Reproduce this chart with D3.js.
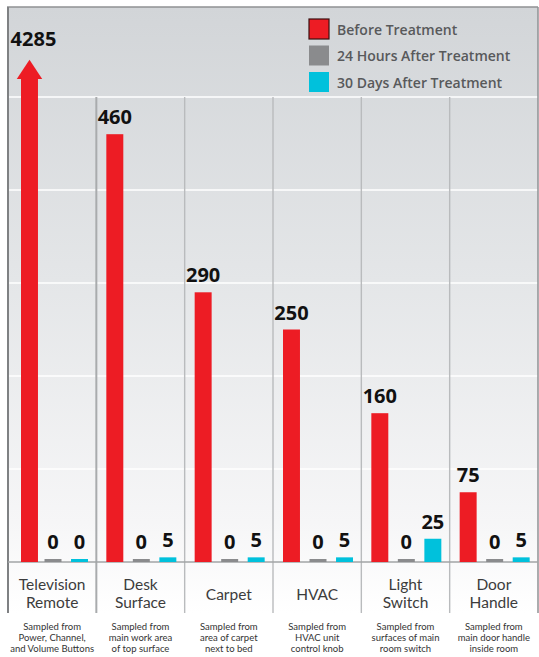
<!DOCTYPE html>
<html>
<head>
<meta charset="utf-8">
<script src="https://cdn.jsdelivr.net/npm/d3@7"></script>
<style>
  html, body { margin: 0; padding: 0; background: #ffffff; }
  svg { display: block; }
</style>
</head>
<body>
<svg id="chart" width="539" height="657"></svg>
<script>
// ---- data ----
const categories = ["Television Remote", "Desk Surface", "Carpet", "HVAC", "Light Switch", "Door Handle"];
const categoryLines = [["Television", "Remote"], ["Desk", "Surface"], ["Carpet"], ["HVAC"], ["Light", "Switch"], ["Door", "Handle"]];
const seriesNames = ["Before Treatment", "24 Hours After Treatment", "30 Days After Treatment"];
const beforeTreatment = [4285, 460, 290, 250, 160, 75];
const after24Hours = [0, 0, 0, 0, 0, 0];
const after30Days = [0, 5, 5, 5, 25, 5];
const notes = [
  ["Sampled from", "Power, Channel,", "and Volume Buttons"],
  ["Sampled from", "main work area", "of top surface"],
  ["Sampled from", "area of carpet", "next to bed"],
  ["Sampled from", "HVAC unit", "control knob"],
  ["Sampled from", "surfaces of main", "room switch"],
  ["Sampled from", "main door handle", "inside room"]
];
const gridValues = [100, 200, 300, 400, 500];
const capValue = 520;      // bars above this are drawn broken with an arrow
const arrowTipValue = 540;

const colors = ["#ed1c24", "#8a8b8d", "#00c1dc"];

// ---- layout ----
const svg = d3.select("#chart");
const panel = { left: 8, right: 538, top: 7, bottom: 613 };
const baseY = 562;

const x = d3.scaleBand().domain(categories).range([panel.left, panel.right]).padding(0);
const xs = d3.scaleBand().domain(seriesNames).range([10, 80]).paddingInner(0.36).paddingOuter(0);
const y = d3.scaleLinear().domain([0, 500]).range([baseY, 97]);
const color = d3.scaleOrdinal().domain(seriesNames).range(colors);

// background gradient
const defs = svg.append("defs");
const grad = defs.append("linearGradient").attr("id", "bg").attr("x1", 0).attr("y1", 0).attr("x2", 0).attr("y2", 1);
grad.append("stop").attr("offset", "0%").attr("stop-color", "#d2d5d8");
grad.append("stop").attr("offset", "45%").attr("stop-color", "#e4e6e8");
grad.append("stop").attr("offset", "85%").attr("stop-color", "#f6f6f7");
grad.append("stop").attr("offset", "100%").attr("stop-color", "#ffffff");

svg.append("rect")
  .attr("x", panel.left).attr("y", panel.top)
  .attr("width", panel.right - panel.left).attr("height", panel.bottom - panel.top)
  .attr("fill", "url(#bg)");

// gridlines
svg.append("g").selectAll("line").data(gridValues).join("line")
  .attr("x1", panel.left).attr("x2", panel.right)
  .attr("y1", d => y(d)).attr("y2", d => y(d))
  .attr("stroke", "#ffffff").attr("stroke-width", 1.6);

// vertical separators
svg.append("g").selectAll("line").data(categories.slice(1)).join("line")
  .attr("x1", d => x(d)).attr("x2", d => x(d))
  .attr("y1", y(500)).attr("y2", panel.bottom)
  .attr("stroke", (d, i) => i === 0 ? "#a9abad" : "#b9bbbd")
  .attr("stroke-width", (d, i) => i === 0 ? 2 : 1.4);

// panel borders
svg.append("line").attr("x1", panel.left - 1).attr("x2", panel.right).attr("y1", panel.top).attr("y2", panel.top)
  .attr("stroke", "#8f9193").attr("stroke-width", 1.5);
svg.append("line").attr("x1", panel.left).attr("x2", panel.left).attr("y1", panel.top).attr("y2", panel.bottom)
  .attr("stroke", "#7f8183").attr("stroke-width", 2);
svg.append("line").attr("x1", panel.right).attr("x2", panel.right).attr("y1", panel.top).attr("y2", panel.bottom)
  .attr("stroke", "#8f9193").attr("stroke-width", 1.5);

// baseline
svg.append("line").attr("x1", panel.left).attr("x2", panel.right).attr("y1", baseY).attr("y2", baseY)
  .attr("stroke", "#a2a4a6").attr("stroke-width", 1.4);

// bars
const seriesValues = [beforeTreatment, after24Hours, after30Days];
const rows = [];
categories.forEach((c, i) => {
  seriesNames.forEach((s, j) => rows.push({ cat: c, series: s, value: seriesValues[j][i], idx: i }));
});

const barG = svg.append("g");
rows.forEach(r => {
  const shift = r.idx === 0 && r.series === seriesNames[0] ? 3 : 0;
  const bx = x(r.cat) + xs(r.series) + shift;
  const bw = xs.bandwidth();
  const capped = r.value > capValue;
  const top = capped ? y(capValue) : Math.min(y(r.value), baseY - 3);
  barG.append("rect")
    .attr("x", bx).attr("y", top)
    .attr("width", bw).attr("height", baseY - top)
    .attr("fill", color(r.series));
  let labelY = top - 10;
  if (capped) {
    const tip = y(arrowTipValue);
    const hw = bw * 0.75;
    barG.append("path")
      .attr("d", `M${bx + bw / 2 - hw},${top + 0.5} L${bx + bw / 2},${tip} L${bx + bw / 2 + hw},${top + 0.5} Z`)
      .attr("fill", color(r.series));
    labelY = tip - 14;
  }
  barG.append("text")
    .attr("x", bx + bw / 2 + (capped ? 4 : 0)).attr("y", labelY)
    .attr("text-anchor", "middle")
    .attr("font-family", "'Open Sans', sans-serif")
    .attr("font-weight", 700)
    .attr("font-size", 20)
    .attr("fill", "#111")
    .text(r.value);
});

// category labels
const catG = svg.append("g");
categories.forEach((c, i) => {
  const lines = categoryLines[i];
  const cx = x(c) + x.bandwidth() / 2;
  const startY = lines.length === 1 ? 600 : 590;
  lines.forEach((ln, k) => {
    catG.append("text")
      .attr("x", cx).attr("y", startY + k * 18)
      .attr("text-anchor", "middle")
      .attr("font-family", "Lato, sans-serif")
      .attr("font-size", 15.5)
      .attr("fill", "#3c3c3c")
      .text(ln);
  });
  notes[i].forEach((ln, k) => {
    catG.append("text")
      .attr("x", cx).attr("y", 630 + k * 11)
      .attr("text-anchor", "middle")
      .attr("font-family", "Lato, sans-serif")
      .attr("font-size", 9.5)
      .attr("fill", "#333")
      .text(ln);
  });
});

// legend
const legend = svg.append("g").attr("transform", "translate(309,19)");
seriesNames.forEach((s, i) => {
  const g = legend.append("g").attr("transform", `translate(0,${i * 26.5})`);
  g.append("rect").attr("x", 0).attr("y", 0).attr("width", 20).attr("height", 20)
    .attr("fill", color(s))
    .attr("stroke", i === 0 ? "#3a1010" : "none").attr("stroke-width", 1.2);
  g.append("text").attr("x", 28).attr("y", 15.5)
    .attr("font-family", "'Open Sans', sans-serif")
    .attr("font-weight", 600)
    .attr("font-size", 14)
    .attr("fill", "#58595b")
    .text(s);
});
</script>
</body>
</html>
